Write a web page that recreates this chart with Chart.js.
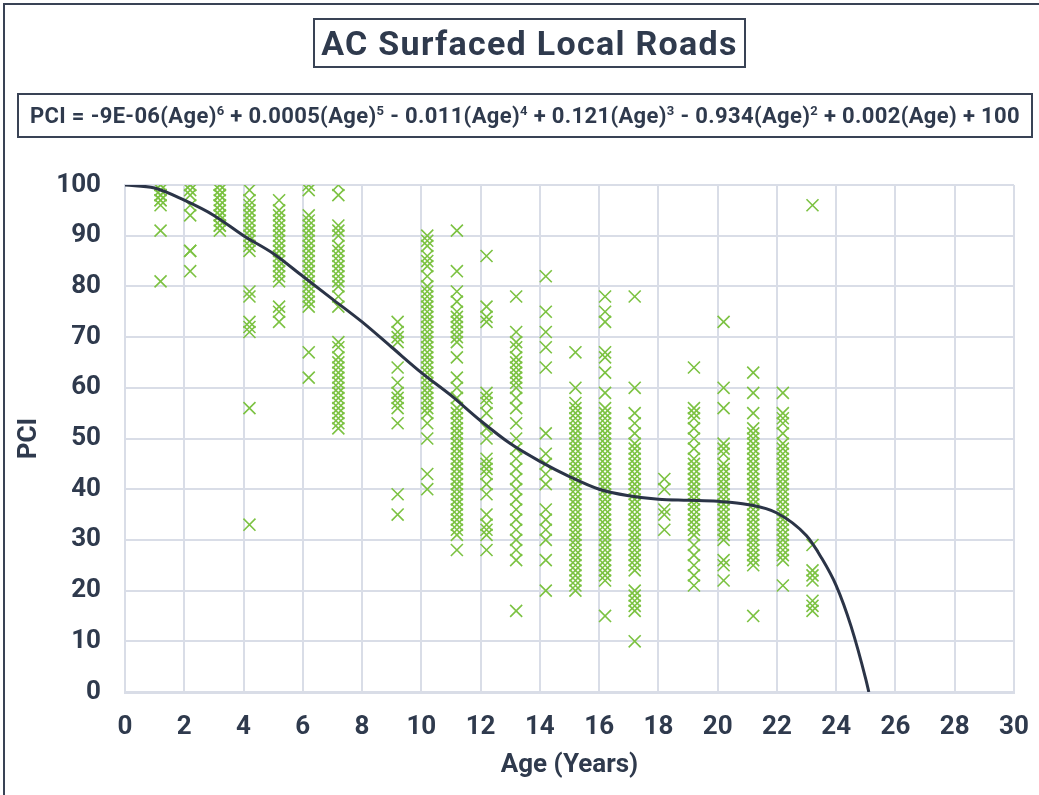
<!DOCTYPE html>
<html>
<head>
<meta charset="utf-8">
<script src="https://cdn.jsdelivr.net/npm/chart.js@4.4.1/dist/chart.umd.min.js"></script>
<style>
    html, body { margin: 0; padding: 0; background: #fff; overflow: hidden; }
    #wrap { position: relative; width: 1039px; height: 795px; font-family: Roboto, sans-serif; color: #2f3a4d; }
    #frame { position: absolute; left: 3px; top: 3px; width: 1100px; height: 900px; border: 2px solid #394355; box-sizing: border-box; }
    #title { position: absolute; left: 313px; top: 18px; width: 433px; height: 50px; border: 2px solid #394355; box-sizing: border-box;
             font-weight: 700; font-size: 34px; letter-spacing: 1.3px; line-height: 46px; text-align: center; }
    #equation { position: absolute; left: 17px; top: 93px; width: 1016px; height: 45px; border: 2px solid #394355; box-sizing: border-box;
                font-weight: 700; font-size: 22px; letter-spacing: 0.35px; line-height: 41px; text-align: center; white-space: nowrap; }
    #equation sup { font-size: 13px; line-height: 0; vertical-align: 8px; }
    canvas { position: absolute; left: 0; top: 0; }
</style>
</head>
<body>
<div id="wrap">
    <canvas id="chart" width="1039" height="795"></canvas>
    <div id="frame"></div>
    <div id="title">AC Surfaced Local Roads</div>
    <div id="equation">PCI = -9E-06(Age)<sup>6</sup> + 0.0005(Age)<sup>5</sup> - 0.011(Age)<sup>4</sup> + 0.121(Age)<sup>3</sup> - 0.934(Age)<sup>2</sup> + 0.002(Age) + 100</div>
</div>
<script>
    // observed sections: age of each column and the PCI values read in it
    const ages = [1.2, 2.2, 3.2, 4.2, 5.2, 6.2, 7.2, 9.2, 10.2, 11.2, 12.2, 13.2, 14.2, 15.2, 16.2, 17.2, 18.2, 19.2, 20.2, 21.2, 22.2, 23.2]
    const pciByAge = [
        [100, 99, 98, 97, 96, 100, 98, 97, 91, 81],
        [100, 100, 99, 98, 96, 94, 87, 87, 83],
        [100, 99, 98, 97, 96, 95, 94, 93, 92, 91, 100, 98, 96, 94, 92],
        [99, 97, 96, 95, 94, 93, 92, 91, 90, 89, 88, 87, 79, 78, 73, 72, 71, 56, 33],
        [97, 95, 94, 93, 92, 91, 90, 89, 88, 87, 86, 85, 84, 83, 82, 81, 76, 75, 73],
        [100, 99, 94, 93, 92, 91, 90, 89, 88, 87, 86, 85, 84, 83, 82, 81, 80, 79, 78, 77, 76, 67, 62],
        [100, 98, 92, 91, 90, 88, 87, 86, 85, 84, 83, 82, 81, 80, 78, 76, 69, 68, 66, 65, 64, 63, 62, 61, 60, 59, 58, 57, 56, 55, 54, 53, 52],
        [73, 71, 70, 69, 64, 61, 59, 58, 57, 56, 53, 39, 35],
        [90, 89, 88, 86, 85, 84, 82, 80, 79, 78, 77, 76, 75, 74, 73, 72, 71, 70, 69, 68, 67, 66, 65, 64, 63, 62, 61, 60, 59, 58, 57, 56, 55, 53, 50, 43, 40],
        [91, 83, 79, 77, 75, 74, 73, 72, 71, 70, 69, 66, 62, 60, 58, 56, 55, 54, 53, 52, 51, 50, 49, 48, 47, 46, 45, 44, 43, 42, 41, 40, 39, 38, 37, 36, 35, 34, 33, 32, 31, 28],
        [86, 76, 74, 73, 59, 58, 57, 55, 52, 50, 46, 45, 44, 43, 41, 39, 35, 33, 32, 31, 28],
        [78, 71, 69, 68, 66, 65, 64, 63, 62, 61, 60, 58, 56, 53, 50, 48, 46, 44, 42, 40, 38, 36, 34, 32, 30, 28, 26, 16],
        [82, 75, 71, 68, 64, 51, 47, 45, 43, 41, 36, 34, 32, 30, 26, 20],
        [67, 60, 57, 56, 55, 54, 53, 52, 51, 50, 49, 48, 47, 46, 45, 44, 43, 42, 41, 40, 39, 38, 37, 36, 35, 34, 33, 32, 31, 30, 29, 28, 27, 26, 25, 24, 23, 22, 21, 20],
        [78, 75, 73, 67, 66, 63, 59, 56, 55, 54, 53, 52, 51, 50, 49, 48, 47, 46, 45, 44, 43, 42, 41, 40, 39, 38, 37, 36, 35, 34, 33, 32, 31, 30, 29, 28, 27, 26, 25, 24, 23, 22, 15],
        [78, 60, 55, 53, 51, 49, 48, 47, 46, 45, 44, 43, 42, 41, 40, 39, 38, 37, 36, 35, 34, 33, 32, 31, 30, 29, 28, 27, 26, 25, 24, 20, 19, 18, 17, 16, 10],
        [42, 40, 36, 35, 32],
        [64, 56, 55, 54, 52, 50, 48, 46, 45, 44, 43, 42, 41, 40, 39, 38, 37, 36, 35, 34, 33, 32, 31, 29, 27, 25, 23, 21],
        [73, 60, 56, 49, 48, 47, 45, 44, 43, 42, 41, 40, 39, 38, 37, 36, 35, 34, 33, 32, 31, 30, 26, 25, 22],
        [63, 59, 55, 52, 51, 50, 49, 48, 47, 46, 45, 44, 43, 42, 41, 40, 39, 38, 37, 36, 35, 34, 33, 32, 31, 30, 29, 28, 27, 26, 25, 15],
        [59, 55, 54, 53, 51, 49, 48, 47, 46, 45, 44, 43, 42, 41, 40, 39, 38, 37, 36, 35, 34, 33, 32, 31, 30, 29, 28, 27, 26, 21],
        [96, 29, 24, 23, 22, 18, 17, 16]
    ]

    // trendline as drawn in the picture
    const trendAges = [0, 1, 2, 3, 4, 5, 6, 7, 8, 9, 10, 11, 12, 13, 14, 15, 16, 17, 18, 19, 20, 21, 22, 23, 23.5, 24, 24.5, 25, 25.1]
    const trendPci = [100, 99.4, 97, 94, 90, 86.5, 82, 77.5, 73, 68, 63, 58.5, 53.5, 49, 45.5, 42.5, 40, 38.7, 38, 37.8, 37.6, 37, 35.3, 30.8, 26.5, 21, 13, 2.5, 0]

    const xTicks = [0, 2, 4, 6, 8, 10, 12, 14, 16, 18, 20, 22, 24, 26, 28, 30]
    const yTicks = [0, 10, 20, 30, 40, 50, 60, 70, 80, 90, 100]

    const textColor = '#2f3a4d'
    const gridColor = '#d9dde7'

    const points = ages.flatMap((age, i) => pciByAge[i].map(pci => ({x: age, y: pci})))
    const trend = trendAges.map((age, i) => ({x: age, y: trendPci[i]}))

    new Chart(document.getElementById('chart'), {
        type: 'scatter',
        data: {
            datasets: [
                {
                    type: 'line',
                    data: trend,
                    borderColor: '#2b3447',
                    borderWidth: 3,
                    pointRadius: 0,
                    cubicInterpolationMode: 'monotone',
                    fill: false,
                    order: 0
                },
                {
                    data: points,
                    pointStyle: 'crossRot',
                    pointRadius: 8.5,
                    borderColor: '#7cc242',
                    borderWidth: 1.6,
                    order: 1
                }
            ]
        },
        options: {
            responsive: false,
            devicePixelRatio: 1,
            animation: false,
            layout: {padding: {left: 0, top: 185, right: 25, bottom: 0}},
            plugins: {legend: {display: false}, tooltip: {enabled: false}},
            scales: {
                x: {
                    type: 'linear',
                    min: 0,
                    max: 30,
                    afterBuildTicks: (scale) => { scale.ticks = xTicks.map(v => ({value: v})) },
                    afterFit: (scale) => {
                        scale.height = 103
                        scale.paddingLeft = 0
                        scale.paddingRight = 0
                    },
                    grid: {color: gridColor, lineWidth: 2, drawTicks: false},
                    border: {color: gridColor, width: 3},
                    ticks: {color: textColor, padding: 20, font: {family: 'Roboto', size: 26, weight: 'bold'}},
                    title: {
                        display: true,
                        text: 'Age (Years)',
                        color: textColor,
                        padding: {top: 0, bottom: 14},
                        font: {family: 'Roboto', size: 26, weight: 'bold'}
                    }
                },
                y: {
                    type: 'linear',
                    min: 0,
                    max: 100,
                    afterBuildTicks: (scale) => { scale.ticks = yTicks.map(v => ({value: v})) },
                    afterFit: (scale) => { scale.width = 125 },
                    grid: {color: gridColor, lineWidth: 2, drawTicks: false},
                    border: {color: gridColor, width: 2},
                    ticks: {color: textColor, padding: 24, font: {family: 'Roboto', size: 26, weight: 'bold'}},
                    title: {
                        display: true,
                        text: 'PCI',
                        color: textColor,
                        padding: {top: 14, bottom: 0},
                        font: {family: 'Roboto', size: 26, weight: 'bold'}
                    }
                }
            }
        }
    })
</script>
</body>
</html>
